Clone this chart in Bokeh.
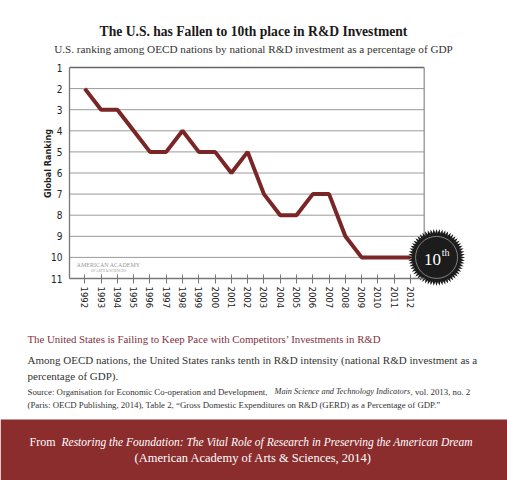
import numpy as np
from bokeh.plotting import figure
from bokeh.models import Range1d, FixedTicker, Label, BoxAnnotation
from bokeh.embed import file_html
from bokeh.resources import INLINE
from bokeh.core.properties import value

# ---- data ----
years = list(range(1992, 2013))
ranks = [2, 3, 3, 4, 5, 5, 4, 5, 5, 6, 5, 7, 8, 8, 7, 7, 9, 10, 10, 10, 10]
rank_ticks = list(range(1, 12))

title_text = "The U.S. has Fallen to 10th place in R&D Investment"
subtitle_text = "U.S. ranking among OECD nations by national R&D investment as a percentage of GDP"
y_label = "Global Ranking"
badge_main = "10"
badge_sup = "th"
heading_text = "The United States is Failing to Keep Pace with Competitors\u2019 Investments in R&D"
para_1 = "Among OECD nations, the United States ranks tenth in R&D intensity (national R&D investment as a"
para_2 = "percentage of GDP)."
src_1a = "Source: Organisation for Economic Co-operation and Development, "
src_1b = "Main Science and Technology Indicators"
src_1c = ", vol. 2013, no. 2"
src_2 = "(Paris: OECD Publishing, 2014), Table 2, \u201cGross Domestic Expenditures on R&D (GERD) as a Percentage of GDP.\u201d"
band_1a = "From"
band_1b = "Restoring the Foundation: The Vital Role of Research in Preserving the American Dream"
band_2 = "(American Academy of Arts & Sciences, 2014)"
mark_1 = "AMERICAN ACADEMY"
mark_2 = "OF ARTS & SCIENCES"

# ---- styles ----
SERIF = "Liberation Serif"
NARROW = "Liberation Sans Narrow, DejaVu Sans Condensed, Roboto, sans-serif"
LINE_RED = "#7b2626"
BAND = "#8b2c2d"
HEAD_RED = "#84303c"
TXT = "#333333"

W, H = 507, 480
PX_YEAR = 16.285      # pixels per year
PX_RANK = 21.1        # pixels per rank step
X0 = years[0] - 84.3 / PX_YEAR          # year at the left page edge
Y0 = rank_ticks[0] - 67 / PX_RANK       # rank at the top page edge

box_l, box_r = 1991.06, 2012.84

p = figure(width=W, height=H, output_backend="svg", toolbar_location=None,
           x_range=Range1d(X0, X0 + W / PX_YEAR),
           y_range=Range1d(Y0 + H / PX_RANK, Y0),
           min_border=0)
p.outline_line_color = None
p.xgrid.visible = False
p.ygrid.visible = False
p.background_fill_color = "white"
p.border_fill_color = "white"

# bottom band
p.add_layout(BoxAnnotation(left=0, right=W, bottom=0, top=H - 419,
                           left_units="screen", right_units="screen",
                           bottom_units="screen", top_units="screen",
                           fill_color=BAND, fill_alpha=1, line_color=None, level="underlay"))

# box rules
grid_y = rank_ticks[1:-1]
p.segment(x0=[box_l] * len(grid_y), x1=[box_r] * len(grid_y), y0=grid_y, y1=grid_y,
          line_color="#9a9a9a", line_width=1)
p.segment(x0=[box_l], x1=[box_r], y0=[rank_ticks[0]], y1=[rank_ticks[0]],
          line_color="#666666", line_width=1.3)
p.segment(x0=[box_r], x1=[box_r], y0=[rank_ticks[0]], y1=[rank_ticks[-1]],
          line_color="#888888", line_width=1.2)

p.line(years, ranks, line_color=LINE_RED, line_width=4)

# badge
bx = years[-1] + 1.6
by = ranks[-1]
angles = list(np.deg2rad(np.arange(12) * 6.0))
p.scatter(x=[bx] * 12, y=[by] * 12, marker="star", size=57, angle=angles,
          fill_color="#1c1c1c", line_color=None)
p.scatter(x=[bx], y=[by], marker="circle", size=48, fill_color="#1c1c1c", line_color=None)
p.scatter(x=[bx], y=[by], marker="circle", size=42, fill_color=None,
          line_color="#aaaaaa", line_width=0.7)
p.text(x=[bx], y=[by], text=[badge_main], text_font=value(SERIF), text_font_size="17px",
       text_color="white", text_align="center", text_baseline="middle", x_offset=-4, y_offset=2)
p.text(x=[bx], y=[by], text=[badge_sup], text_font=value(SERIF), text_font_size="10px",
       text_color="white", text_align="center", text_baseline="middle", x_offset=9, y_offset=-5)

# axes, pinned inside the frame
xa = p.xaxis[0]
xa.fixed_location = rank_ticks[-1]
xa.ticker = FixedTicker(ticks=years)
xa.bounds = (box_l, box_r)
xa.major_label_orientation = "vertical"
xa.major_label_text_font = NARROW
xa.major_label_text_font_size = "9.5px"
xa.major_label_text_color = "#222222"
xa.major_tick_in = 4
xa.major_tick_out = 5
xa.minor_tick_line_color = None
xa.axis_line_color = "#777777"
xa.axis_line_width = 1.3
xa.major_tick_line_color = "#777777"
xa.major_label_standoff = 3

ya = p.yaxis[0]
ya.fixed_location = box_l
ya.ticker = FixedTicker(ticks=rank_ticks)
ya.bounds = (rank_ticks[0], rank_ticks[-1])
ya.major_tick_in = 0
ya.major_tick_out = 0
ya.minor_tick_line_color = None
ya.axis_line_color = "#777777"
ya.axis_line_width = 1.3
ya.major_label_text_font = NARROW
ya.major_label_text_font_size = "10px"
ya.major_label_text_color = "#222222"
ya.major_label_standoff = 7


def lab(rx, ry, text, size, color=TXT, align="left", style="normal", font=SERIF, angle=0):
    p.add_layout(Label(x=rx, y=H - ry, x_units="screen", y_units="screen",
                       text=text, text_font=font, text_font_size=size, text_color=color,
                       text_align=align, text_baseline="middle", text_font_style=style,
                       angle=angle))


lab(47, 163, y_label, "9px", color="#222222", align="center", style="bold", font=NARROW,
    angle=np.pi / 2)
lab(253, 31, title_text, "13.6px", color="#1a1a1a", align="center", style="bold")
lab(253, 48, subtitle_text, "11.2px", align="center")
lab(108, 264, mark_1, "6px", color="#9a9a9a", align="center")
lab(108, 270, mark_2, "3.5px", color="#9a9a9a", align="center")
lab(27, 338, heading_text, "10.8px", color=HEAD_RED)
lab(27, 359, para_1, "11px")
lab(27, 375, para_2, "11px")
lab(27, 391, src_1a, "8.8px")
lab(274, 391, src_1b, "8.3px", style="italic")
lab(410, 391, src_1c, "8.8px")
lab(27, 404, src_2, "8.8px")
lab(29, 441, band_1a, "12px", color="white")
lab(61, 441, band_1b, "11.5px", color="white", style="italic")
lab(253, 457, band_2, "12.5px", color="white", align="center")

open("out.html", "w").write(file_html(p, INLINE))
